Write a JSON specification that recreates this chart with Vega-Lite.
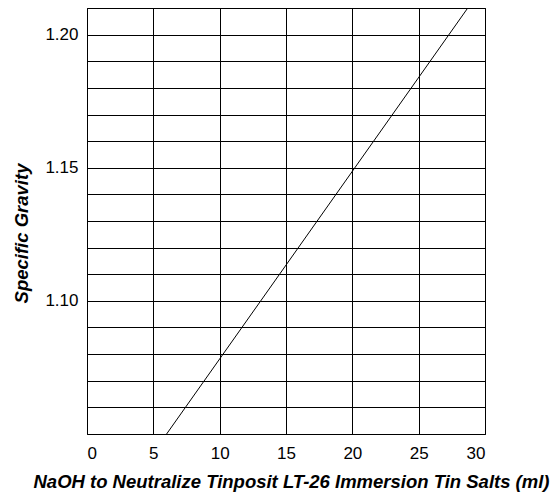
{
  "$schema": "https://vega.github.io/schema/vega-lite/v6.json",
  "autosize": "none",
  "width": 398,
  "height": 426,
  "padding": {"left": 87, "top": 8, "right": 71, "bottom": 59},
  "background": "white",
  "config": {
    "view": {"stroke": "black", "strokeWidth": 1},
    "font": "Liberation Sans"
  },
  "data": {"values": [
    {"naoh": 6.0, "sg": 1.05},
    {"naoh": 28.7, "sg": 1.21}
  ]},
  "mark": {"type": "line", "color": "black", "strokeWidth": 1, "clip": true},
  "encoding": {
    "x": {
      "field": "naoh", "type": "quantitative",
      "scale": {"domain": [0, 30], "nice": false, "zero": false},
      "axis": {
        "title": "NaOH to Neutralize Tinposit LT-26 Immersion Tin Salts (ml)",
        "values": [0, 5, 10, 15, 20, 25, 30],
        "grid": true, "gridColor": "black", "gridOpacity": 1, "gridWidth": 1,
        "domain": false, "ticks": false, "tickSize": 0,
        "labelFontSize": 17, "labelColor": "black", "labelPadding": 11,
        "labelFont": "Liberation Sans",
        "titleFont": "Liberation Sans", "titleFontSize": 18.5, "titleFontWeight": "bold",
        "titleFontStyle": "italic", "titleColor": "black",
        "titleX": 204, "titleY": 47, "titleBaseline": "middle", "titleAlign": "center"
      }
    },
    "y": {
      "field": "sg", "type": "quantitative",
      "scale": {"domain": [1.05, 1.21], "nice": false, "zero": false},
      "axis": {
        "title": "Specific Gravity",
        "values": [1.05, 1.06, 1.07, 1.08, 1.09, 1.10, 1.11, 1.12, 1.13, 1.14, 1.15, 1.16, 1.17, 1.18, 1.19, 1.20, 1.21],
        "labelExpr": "indexof(['1.10','1.15','1.20'], format(datum.value, '.2f')) >= 0 ? format(datum.value, '.2f') : ''",
        "grid": true, "gridColor": "black", "gridOpacity": 1, "gridWidth": 1,
        "domain": false, "ticks": false, "tickSize": 0,
        "labelFontSize": 17, "labelColor": "black", "labelPadding": 9,
        "labelFont": "Liberation Sans",
        "titleFont": "Liberation Sans", "titleFontSize": 18.5, "titleFontWeight": "bold",
        "titleFontStyle": "italic", "titleColor": "black",
        "titleX": -66, "titleY": 225, "titleBaseline": "middle", "titleAlign": "center", "titleAngle": -90
      }
    }
  }
}
